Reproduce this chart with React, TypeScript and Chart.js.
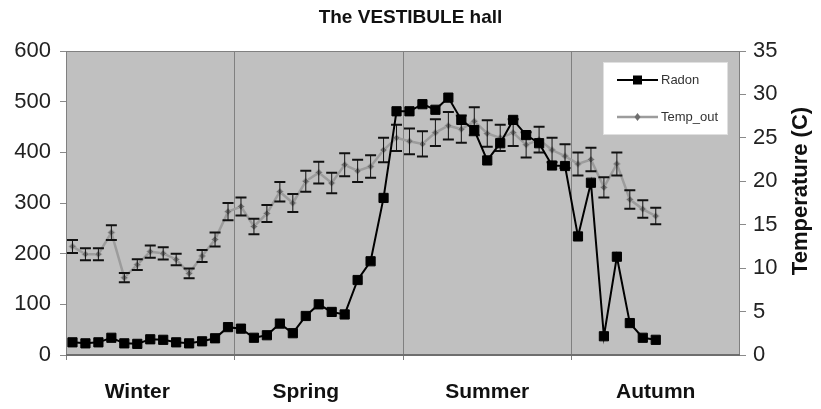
import React, { useEffect, useRef } from 'react';
import { Chart, registerables } from 'chart.js';

Chart.register(...registerables);

// Weekly categories (52 weeks, 13 per season)
const weeks: string[] = Array.from({ length: 52 }, (_, i) => `Week ${i + 1}`);
const seasons = ['Winter', 'Spring', 'Summer', 'Autumn'];
const seasonLabelWeek = [5, 18, 32, 45];
const seasonBoundaryEvery = 13;

// Radon (left axis)
const radon = [
  25, 23, 25, 34, 23, 22, 31, 30, 25, 23, 27, 33, 55,
  52, 34, 39, 62, 43, 77, 100, 85, 80, 148, 185, 310, 481,
  481, 495, 484, 508, 464, 444, 384, 418, 464, 434, 418, 374, 373,
  234, 340, 37, 194, 63, 34, 30,
];

// Outdoor temperature (right axis, °C)
const tempOut = [
  12.5, 11.6, 11.6, 14.1, 8.9, 10.4, 11.9, 11.7, 11.0, 9.4, 11.4, 13.3, 16.5,
  17.1, 14.8, 16.3, 18.8, 17.5, 20.0, 21.0, 19.8, 21.9, 21.2, 21.7, 23.6, 25.0,
  24.6, 24.3, 25.6, 26.4, 26.0, 26.9, 25.5, 25.0, 25.6, 24.2, 24.8, 23.6, 22.9,
  22.0, 22.5, 19.3, 22.0, 17.9, 16.8, 16.0,
];
const tempErrorPct = 0.06;

const leftTicks = { min: 0, max: 600, step: 100 };
const rightTicks = { min: 0, max: 35, step: 5 };

const FONT = "'Liberation Sans', Arial, sans-serif";

const plotFrame = {
  id: 'plotFrame',
  beforeDraw(chart: any) {
    const { ctx, chartArea: a } = chart;
    ctx.save();
    ctx.fillStyle = '#c0c0c0';
    ctx.fillRect(a.left, a.top, a.right - a.left, a.bottom - a.top);
    ctx.restore();
  },
  beforeDatasetsDraw(chart: any) {
    const { ctx, chartArea: a } = chart;
    ctx.save();
    ctx.strokeStyle = '#808080';
    ctx.lineWidth = 1;
    ctx.strokeRect(a.left + 0.5, a.top + 0.5, a.right - a.left - 1, a.bottom - a.top - 1);
    ctx.strokeStyle = '#6e6e6e';
    ctx.lineWidth = 2;
    ctx.beginPath();
    ctx.moveTo(a.left, a.bottom);
    ctx.lineTo(a.right, a.bottom);
    ctx.stroke();
    ctx.restore();
  },
};

const errorBars = {
  id: 'errorBars',
  afterDatasetDraw(chart: any, args: any) {
    if (args.index !== 1) return;
    const { ctx } = chart;
    const meta = chart.getDatasetMeta(1);
    const ys = chart.scales.y1;
    ctx.save();
    ctx.strokeStyle = '#111';
    meta.data.forEach((pt: any, i: number) => {
      const v = tempOut[i];
      if (v == null) return;
      const e = v * tempErrorPct;
      const top = ys.getPixelForValue(v + e);
      const bot = ys.getPixelForValue(v - e);
      const x = pt.x;
      ctx.lineWidth = 1;
      ctx.beginPath();
      ctx.moveTo(x, top);
      ctx.lineTo(x, bot);
      ctx.stroke();
      ctx.lineWidth = 2;
      ctx.beginPath();
      ctx.moveTo(x - 5.5, top);
      ctx.lineTo(x + 5.5, top);
      ctx.moveTo(x - 5.5, bot);
      ctx.lineTo(x + 5.5, bot);
      ctx.stroke();
    });
    ctx.restore();
  },
};

const extras = {
  id: 'extras',
  afterDraw(chart: any) {
    const { ctx, chartArea: a } = chart;
    // right axis title, reading bottom-to-top
    ctx.save();
    ctx.fillStyle = '#111';
    ctx.font = `bold 22px ${FONT}`;
    ctx.textAlign = 'center';
    ctx.textBaseline = 'middle';
    ctx.translate(801, 191);
    ctx.rotate(-Math.PI / 2);
    ctx.fillText('Temperature (C)', 0, 0);
    ctx.restore();

    // legend box inside plot area
    const bx = a.right - 137;
    const by = a.top + 11;
    const bw = 125;
    const bh = 73;
    ctx.save();
    ctx.fillStyle = '#ffffff';
    ctx.fillRect(bx, by, bw, bh);
    ctx.strokeStyle = '#e0e0e0';
    ctx.lineWidth = 1;
    ctx.strokeRect(bx + 0.5, by + 0.5, bw - 1, bh - 1);
    const items = chart.data.datasets.map((ds: any) => ds);
    const rows = [by + 18, by + 55];
    items.forEach((ds: any, i: number) => {
      const y = rows[i];
      const x0 = bx + 14;
      const x1 = bx + 55;
      ctx.strokeStyle = ds.borderColor;
      ctx.lineWidth = ds.borderWidth;
      ctx.beginPath();
      ctx.moveTo(x0, y);
      ctx.lineTo(x1, y);
      ctx.stroke();
      ctx.fillStyle = ds.pointBackgroundColor;
      ctx.strokeStyle = ds.pointBorderColor;
      ctx.lineWidth = 1;
      (Chart as any).helpers
        ? null
        : null;
      if (ds.pointStyle === 'rect') {
        ctx.fillRect((x0 + x1) / 2 - 4.5, y - 4.5, 9, 9);
      } else {
        const cx = (x0 + x1) / 2;
        ctx.beginPath();
        ctx.moveTo(cx, y - 4);
        ctx.lineTo(cx + 3, y);
        ctx.lineTo(cx, y + 4);
        ctx.lineTo(cx - 3, y);
        ctx.closePath();
        ctx.fill();
      }
      ctx.fillStyle = '#333';
      ctx.font = `13px ${FONT}`;
      ctx.textAlign = 'left';
      ctx.textBaseline = 'middle';
      ctx.fillText(ds.label, x1 + 3, y);
    });
    ctx.restore();
  },
};

export default function App() {
  const ref = useRef<HTMLCanvasElement | null>(null);

  useEffect(() => {
    if (!ref.current) return;
    const chart = new Chart(ref.current, {
      type: 'line',
      data: {
        labels: weeks,
        datasets: [
          {
            label: 'Radon',
            data: radon,
            yAxisID: 'y',
            borderColor: '#000000',
            borderWidth: 2,
            pointStyle: 'rect',
            pointRadius: 6.5,
            pointBackgroundColor: '#000000',
            pointBorderColor: '#000000',
            pointBorderWidth: 1,
            tension: 0,
          },
          {
            label: 'Temp_out',
            data: tempOut,
            yAxisID: 'y1',
            borderColor: '#9c9c9c',
            borderWidth: 2.5,
            pointStyle: 'rectRot',
            pointRadius: 3.5,
            pointBackgroundColor: '#6e6e6e',
            pointBorderColor: '#a8a8a8',
            pointBorderWidth: 1,
            tension: 0,
          },
        ],
      },
      options: {
        animation: false,
        responsive: false,
        maintainAspectRatio: false,
        layout: { padding: 0 },
        plugins: {
          legend: { display: false },
          tooltip: { enabled: false },
          title: {
            display: true,
            text: 'The VESTIBULE hall',
            color: '#111',
            font: { family: FONT, size: 19, weight: 'bold', lineHeight: 1.2 },
            padding: { top: 6, bottom: 22.2 },
          },
        },
        scales: {
          x: {
            type: 'category',
            offset: true,
            grid: {
              offset: true,
              drawOnChartArea: true,
              tickLength: 5,
              lineWidth: 1,
              color: (c: any) => (c.index % seasonBoundaryEvery === 0 ? '#808080' : 'rgba(0,0,0,0)'),
            },
            border: { display: false },
            ticks: {
              autoSkip: false,
              maxRotation: 0,
              minRotation: 0,
              padding: 20,
              color: '#111',
              font: { family: FONT, size: 21, weight: 'bold' },
              callback: (_v: any, i: number) => {
                const k = seasonLabelWeek.indexOf(i);
                return k >= 0 ? seasons[k] : '';
              },
            },
            afterFit: (s: any) => { s.height = 54; },
          },
          y: {
            type: 'linear',
            position: 'left',
            min: leftTicks.min,
            max: leftTicks.max,
            grid: { drawOnChartArea: false, tickLength: 6, color: '#8a8a8a' },
            border: { display: false },
            ticks: {
              stepSize: leftTicks.step,
              padding: 9,
              color: '#222',
              font: { family: FONT, size: 22 },
            },
            afterFit: (s: any) => { s.width = 66; },
          },
          y1: {
            type: 'linear',
            position: 'right',
            min: rightTicks.min,
            max: rightTicks.max,
            grid: { drawOnChartArea: false, tickLength: 6, color: '#8a8a8a' },
            border: { display: false },
            ticks: {
              stepSize: rightTicks.step,
              padding: 7,
              color: '#222',
              font: { family: FONT, size: 22 },
            },
            afterFit: (s: any) => { s.width = 81; },
          },
        },
      },
      plugins: [plotFrame, errorBars, extras],
    });
    return () => chart.destroy();
  }, []);

  return (
    <div style={{ position: 'fixed', left: 0, top: 0, width: 821, height: 409, background: '#fff' }}>
      <canvas ref={ref} width={821} height={409} style={{ width: 821, height: 409, display: 'block' }} />
    </div>
  );
}
